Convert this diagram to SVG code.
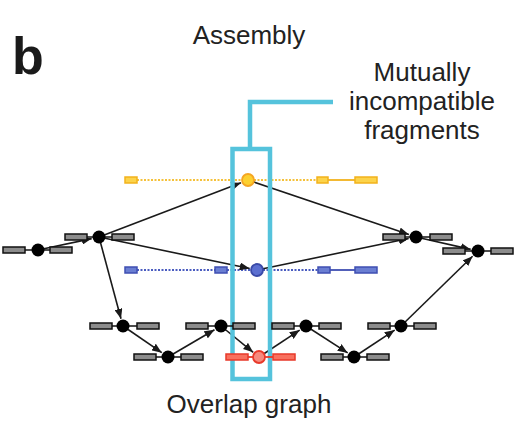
<svg xmlns="http://www.w3.org/2000/svg" width="522" height="446" viewBox="0 0 522 446">
<defs>
<style>
.t{font-family:"Liberation Sans",Arial,sans-serif;fill:#222;font-size:26px;text-anchor:middle}
.e{stroke:#1a1a1a;stroke-width:1.6;fill:none;marker-end:url(#ah)}
.g{fill:#8c8c8c;stroke:#111;stroke-width:1.5}
.bl{stroke:#111;stroke-width:1.5}
.n{fill:#000}
.cy{fill:none;stroke:#55c3dc;stroke-width:4.5}
.yr{fill:#fcd34a;stroke:#f2b21c;stroke-width:1.5}
.yd{stroke:#f5c13a;stroke-width:1.8;stroke-dasharray:2 1.5}
.ys{stroke:#f2b21c;stroke-width:1.8}
.br{fill:#6a7ed2;stroke:#3f4fb2;stroke-width:1.5}
.bd{stroke:#4a5cc0;stroke-width:1.8;stroke-dasharray:2 1.5}
.bs{stroke:#3f4fb2;stroke-width:1.8}
.rr{fill:#f8705e;stroke:#e8392a;stroke-width:1.5}
.rs{stroke:#e8392a;stroke-width:1.8}
</style>
<marker id="ah" markerUnits="userSpaceOnUse" markerWidth="10" markerHeight="8" refX="10" refY="4" orient="auto">
<path d="M0,0 L10,4 L0,8 z" fill="#1a1a1a"/>
</marker>
</defs>
<rect width="522" height="446" fill="#fff"/>
<text x="12" y="74" style="font-family:'Liberation Sans',Arial,sans-serif;font-weight:bold;font-size:52px;fill:#1a1a1a">b</text>
<text class="t" x="249" y="44">Assembly</text>
<text class="t" x="422" y="81">Mutually</text>
<text class="t" x="422" y="110">incompatible</text>
<text class="t" x="422" y="139">fragments</text>
<text class="t" x="249" y="413">Overlap graph</text>

<g id="fragments-yellow">
<line class="yd" x1="137" y1="180" x2="242" y2="180"/>
<line class="yd" x1="254" y1="180" x2="317" y2="180"/>
<line class="ys" x1="328" y1="180" x2="355" y2="180"/>
<rect class="yr" x="125" y="177" width="12" height="6"/>
<rect class="yr" x="317" y="177" width="11" height="6"/>
<rect class="yr" x="355" y="177" width="22" height="6"/>
</g>
<g id="fragments-blue">
<line class="bd" x1="137" y1="270" x2="215" y2="270"/>
<line class="bd" x1="227" y1="270" x2="251" y2="270"/>
<line class="bd" x1="263" y1="270" x2="318" y2="270"/>
<line class="bs" x1="330" y1="270" x2="355" y2="270"/>
<rect class="br" x="125" y="267" width="12" height="6"/>
<rect class="br" x="215" y="267" width="12" height="6"/>
<rect class="br" x="318" y="267" width="12" height="6"/>
<rect class="br" x="355" y="267" width="22" height="6"/>
</g>

<g id="connectors">
<line class="e" x1="38" y1="250" x2="91.7" y2="238.6"/>
<line class="e" x1="99" y1="237" x2="241" y2="182.7"/>
<line class="e" x1="99" y1="237" x2="249.7" y2="268.5"/>
<line class="e" x1="99" y1="237" x2="121" y2="318.8"/>
<line class="e" x1="248" y1="180" x2="408.9" y2="234.6"/>
<line class="e" x1="257" y1="270" x2="408.7" y2="238.5"/>
<line class="e" x1="416" y1="237" x2="470.7" y2="249.4"/>
<line class="e" x1="123" y1="326" x2="161.8" y2="352.7"/>
<line class="e" x1="168" y1="357" x2="214.5" y2="329.8"/>
<line class="e" x1="221" y1="326" x2="253.2" y2="352.3"/>
<line class="e" x1="259" y1="357" x2="299.7" y2="330.1"/>
<line class="e" x1="306" y1="326" x2="347.7" y2="352.9"/>
<line class="e" x1="354" y1="357" x2="394.7" y2="330.1"/>
<line class="e" x1="401" y1="326" x2="472.6" y2="256.2"/>
</g>

<g id="incompatible-box">
<rect class="cy" x="232.5" y="149" width="37.5" height="230"/>
<polyline class="cy" stroke-width="3.5" points="250,149 250,102 333,102"/>
</g>

<g id="n1"><line class="bl" x1="25" y1="250" x2="50" y2="250"/><rect class="g" x="3" y="247" width="22" height="6"/><rect class="g" x="50" y="247" width="22" height="6"/><circle class="n" cx="38" cy="250" r="6.5"/></g>
<g id="n2"><line class="bl" x1="87" y1="237" x2="112" y2="237"/><rect class="g" x="65" y="234" width="22" height="6"/><rect class="g" x="112" y="234" width="22" height="6"/><circle class="n" cx="99" cy="237" r="6.5"/></g>
<g id="n3"><line class="bl" x1="405" y1="237" x2="430" y2="237"/><rect class="g" x="383" y="234" width="22" height="6"/><rect class="g" x="430" y="234" width="22" height="6"/><circle class="n" cx="416" cy="237" r="6.5"/></g>
<g id="n4"><line class="bl" x1="465" y1="251" x2="491" y2="251"/><rect class="g" x="443" y="248" width="22" height="6"/><rect class="g" x="491" y="248" width="22" height="6"/><circle class="n" cx="478" cy="251" r="6.5"/></g>
<g id="n5"><line class="bl" x1="112" y1="326" x2="137" y2="326"/><rect class="g" x="90" y="323" width="22" height="6"/><rect class="g" x="137" y="323" width="22" height="6"/><circle class="n" cx="123" cy="326" r="6.5"/></g>
<g id="n6"><line class="bl" x1="156" y1="357" x2="181" y2="357"/><rect class="g" x="134" y="354" width="22" height="6"/><rect class="g" x="181" y="354" width="22" height="6"/><circle class="n" cx="168" cy="357" r="6.5"/></g>
<g id="n7"><line class="bl" x1="208" y1="326" x2="233" y2="326"/><rect class="g" x="186" y="323" width="22" height="6"/><rect class="g" x="233" y="323" width="22" height="6"/><circle class="n" cx="221" cy="326" r="6.5"/></g>
<g id="n8"><line class="bl" x1="294" y1="326" x2="319" y2="326"/><rect class="g" x="272" y="323" width="22" height="6"/><rect class="g" x="319" y="323" width="22" height="6"/><circle class="n" cx="306" cy="326" r="6.5"/></g>
<g id="n9"><line class="bl" x1="343" y1="357" x2="367" y2="357"/><rect class="g" x="321" y="354" width="22" height="6"/><rect class="g" x="367" y="354" width="22" height="6"/><circle class="n" cx="354" cy="357" r="6.5"/></g>
<g id="n10"><line class="bl" x1="390" y1="326" x2="414" y2="326"/><rect class="g" x="368" y="323" width="22" height="6"/><rect class="g" x="414" y="323" width="22" height="6"/><circle class="n" cx="401" cy="326" r="6.5"/></g>
<g id="red"><line class="rs" x1="248" y1="357" x2="273" y2="357"/><rect class="rr" x="226" y="354" width="22" height="6"/><rect class="rr" x="273" y="354" width="22" height="6"/><circle cx="259" cy="357" r="6" fill="#f58a7e" stroke="#e8392a" stroke-width="1.8"/></g>
<g id="yellow"><circle cx="248" cy="180" r="6" fill="#fcd030" stroke="#f5a623" stroke-width="1.8"/></g>
<g id="blue"><circle cx="257" cy="270" r="6" fill="#5b6fd0" stroke="#3a4aa8" stroke-width="1.8"/></g>
</svg>
